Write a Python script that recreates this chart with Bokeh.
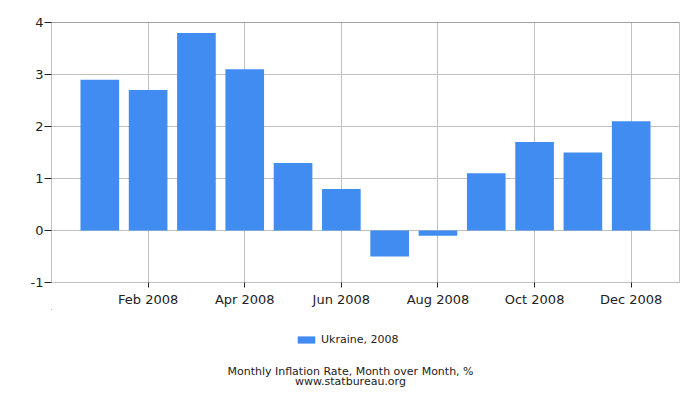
from bokeh.plotting import figure
from bokeh.layouts import column
from bokeh.models import (ColumnDataSource, FixedTicker, Label, Legend,
                          LegendItem, LinearAxis, Range1d)
from bokeh.embed import file_html
from bokeh.resources import INLINE

# monthly inflation, month over month, %
months = ['Jan', 'Feb', 'Mar', 'Apr', 'May', 'Jun',
          'Jul', 'Aug', 'Sep', 'Oct', 'Nov', 'Dec']
values = [2.9, 2.7, 3.8, 3.1, 1.3, 0.8, -0.5, -0.1, 1.1, 1.7, 1.5, 2.1]
x_ticks = [2, 4, 6, 8, 10, 12]
x_tick_labels = ['Feb 2008', 'Apr 2008', 'Jun 2008',
                 'Aug 2008', 'Oct 2008', 'Dec 2008']
y_ticks = [-1, 0, 1, 2, 3, 4]
y_tick_labels = ['-1', '0', '1', '2', '3', '4']
series_name = 'Ukraine, 2008'
caption = ['Monthly Inflation Rate, Month over Month, %',
           'www.statbureau.org']

FONT = 'DejaVu Sans'
BAR = '#418cf0'
GRID = '#c0c0c0'
TEXT = '#222222'
W = 684
LEFT, RIGHT = 51, 5

source = ColumnDataSource(data=dict(x=list(range(1, len(months) + 1)),
                                    top=values, month=months))

# main chart
p = figure(width=W, height=309, output_backend='svg',
           toolbar_location=None,
           x_range=Range1d(0, 13), y_range=Range1d(-1, 4),
           min_border_left=LEFT, min_border_right=RIGHT,
           min_border_top=22, min_border_bottom=26)
p.outline_line_color = GRID

p.vbar(x='x', top='top', bottom=0, width=0.8, source=source,
       fill_color=BAR, line_color=None)

for ax in (p.xaxis[0], p.yaxis[0]):
    ax.axis_line_color = GRID
    ax.major_tick_line_color = TEXT
    ax.major_tick_in = 0
    ax.minor_tick_line_color = None
    ax.major_label_text_font = FONT
    ax.major_label_text_font_size = '13px'
    ax.major_label_text_color = TEXT

p.xaxis.ticker = FixedTicker(ticks=x_ticks)
p.xaxis.major_label_overrides = {t: s for t, s in zip(x_ticks, x_tick_labels)}
p.xaxis.major_tick_out = 5
p.xaxis.major_label_standoff = 4
p.yaxis.ticker = FixedTicker(ticks=y_ticks)
p.yaxis.major_label_overrides = {t: s for t, s in zip(y_ticks, y_tick_labels)}
p.yaxis.major_tick_out = 7
p.yaxis.major_label_standoff = 1

# darker top edge of the plot area
top_edge = LinearAxis(ticker=FixedTicker(ticks=[]), axis_line_color='#a0a0a0',
                      major_tick_line_color=None, minor_tick_line_color=None)
p.add_layout(top_edge, 'above')

p.xgrid.grid_line_color = GRID
p.ygrid.grid_line_color = GRID
p.xgrid.ticker = FixedTicker(ticks=x_ticks)
p.ygrid.ticker = FixedTicker(ticks=y_ticks)

# legend and caption strip under the chart, x in page pixels
foot = figure(width=W, height=81, output_backend='svg',
              toolbar_location=None, x_axis_type=None, y_axis_type=None,
              x_range=Range1d(LEFT, W - RIGHT), y_range=Range1d(81, 0),
              min_border_left=LEFT, min_border_right=RIGHT,
              min_border_top=0, min_border_bottom=0)
foot.outline_line_color = None
foot.xgrid.visible = False
foot.ygrid.visible = False

# same series on a range far off the strip, so it only feeds the legend key
foot.extra_y_ranges = {'key': Range1d(-1000, -900)}
key = foot.vbar(x='x', top='top', bottom=0, width=0.8, source=source,
                y_range_name='key', fill_color=BAR, line_color=None)
legend = Legend(items=[LegendItem(label=series_name, renderers=[key])],
                location=(295 - LEFT, 44), orientation='horizontal',
                label_text_font=FONT, label_text_font_size='11px',
                label_text_color=TEXT, glyph_width=22, glyph_height=9,
                label_standoff=4, padding=0, margin=0,
                background_fill_alpha=0, border_line_color=None)
foot.add_layout(legend, 'center')

for line, base in zip(caption, [62, 71.5]):
    foot.add_layout(Label(x=350, y=base, text=line, text_font=FONT,
                          text_font_size='11px', text_color=TEXT,
                          text_align='center', text_baseline='alphabetic'))

layout = column(p, foot, spacing=0)
open('out.html', 'w').write(file_html(layout, INLINE))
